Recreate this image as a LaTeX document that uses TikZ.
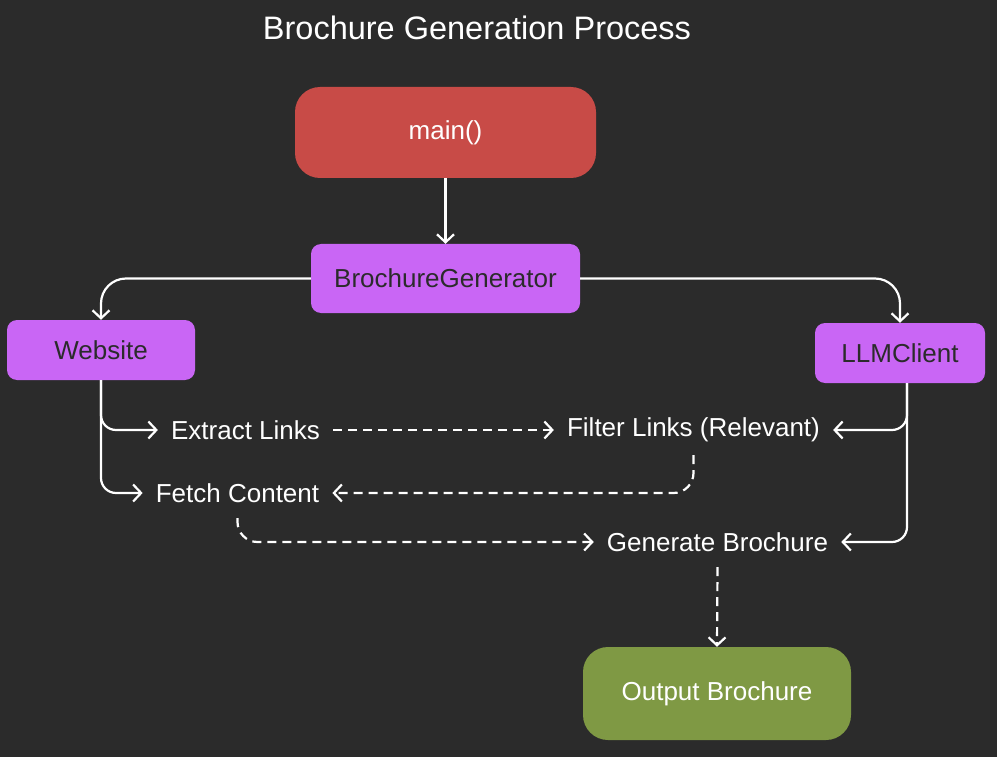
\documentclass[tikz,border=0pt]{standalone}
\usepackage{fontspec}
\setmainfont{Liberation Sans}
\usetikzlibrary{arrows.meta}
\definecolor{bgc}{HTML}{2B2B2B}
\definecolor{redc}{HTML}{C84B47}
\definecolor{purc}{HTML}{C966F5}
\definecolor{grnc}{HTML}{7F9944}
\definecolor{darktxt}{HTML}{2B2B2B}
\tikzset{
  box/.style={rectangle, inner sep=0pt, font=\fontsize{26}{30}\selectfont},
  bigbox/.style={box, rounded corners=25pt},
  smallbox/.style={box, rounded corners=10pt, fill=purc, text=darktxt},
  lbl/.style={inner xsep=13pt, inner ysep=0pt, minimum height=50pt, text=white, font=\fontsize{26}{30}\selectfont},
  conn/.style={draw=white, line width=2.2pt, -{Straight Barb[length=8pt,width=17pt,line width=2.2pt]}},
  dconn/.style={conn, dash pattern=on 9pt off 6pt},
}
\begin{document}
\begin{tikzpicture}[x=1pt,y=-1pt]
\fill[bgc] (0,0) rectangle (997,757);
\useasboundingbox (0,0) rectangle (997,757);
\node[text=white, font=\fontsize{32.5}{38}\selectfont] (title) at (477,28) {Brochure Generation Process};
\node[bigbox, fill=redc, text=white, minimum width=301pt, minimum height=91pt] (main) at (445.5,132.5) {main()};
\node[smallbox, minimum width=269pt, minimum height=69pt] (bg) at (445.5,278.5) {BrochureGenerator};
\node[smallbox, minimum width=188pt, minimum height=60pt] (web) at (101,350) {Website};
\node[smallbox, minimum width=170pt, minimum height=60pt] (llm) at (900,353) {LLMClient};
\node[bigbox, fill=grnc, text=white, minimum width=268pt, minimum height=93pt] (out) at (717,693.5) {Output Brochure};
\node[lbl] (extract) at (245.5,430) {Extract Links};
\node[lbl] (fetch) at (237.5,493) {Fetch Content};
\node[lbl] (filter) at (693.5,430) {Filter Links (Relevant)};
\node[lbl] (gen) at (717.5,542) {Generate Brochure};
\coordinate (llmout) at ([xshift=7pt]llm.south);

\draw[conn] (main.south) -- (bg.north);
\draw[conn, rounded corners=25pt] (bg.west) -| (web.north);
\draw[conn, rounded corners=25pt] (bg.east) -| (llm.north);
\draw[conn, rounded corners=15pt] (web.south) |- (extract.west);
\draw[conn, rounded corners=15pt] (web.south) |- (fetch.west);
\draw[conn, rounded corners=15pt] (llmout) |- (filter.east);
\draw[conn, rounded corners=15pt] (llmout) |- (gen.east);
\draw[dconn] (extract.east) -- (filter.west);
\draw[dconn, rounded corners=20pt] (filter.south) |- (fetch.east);
\draw[dconn, rounded corners=20pt] (fetch.south) |- (gen.west);
\draw[dconn] (gen.south) -- (out.north);
\end{tikzpicture}
\end{document}
